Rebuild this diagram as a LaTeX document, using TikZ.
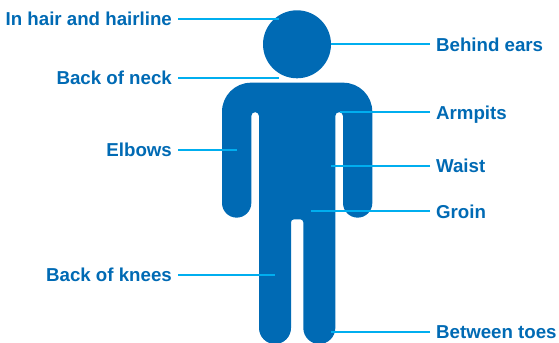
\documentclass[tikz,border=0pt]{standalone}
\usepackage{fontspec}
\setmainfont{Liberation Sans}
\definecolor{bodyblue}{RGB}{0,106,180}
\definecolor{leadcyan}{RGB}{0,174,239}
\tikzset{
  figure/.style={fill=bodyblue,draw=none},
  leader/.style={leadcyan,line width=0.1cm},
  lab/.style={text=bodyblue,font=\fontsize{26.6}{30}\selectfont\bfseries,inner ysep=0pt,
              text height=0.7cm,text depth=0pt},
  labl/.style={lab,anchor=east,inner xsep=0.3cm},
  labr/.style={lab,anchor=west,inner xsep=0.3cm},
}
\begin{document}
\begin{tikzpicture}[x=0.05cm,y=0.05cm]
  \path[use as bounding box] (0,0) rectangle (559,343);
  \begin{scope}
    \clip (0,0) rectangle (559,343);
    % head and body
    \fill[figure] (297,298.7) circle (34);
    \fill[figure] (222,140) -- (222,231.3)
      arc (180:90:29) -- (343.3,260.3) arc (90:0:29) -- (372.3,140)
      arc (0:-180:14.65) -- (343,227) arc (0:180:3.85) -- (335.3,15)
      arc (0:-180:16) -- (303.3,120.7) arc (0:90:3) -- (294,123.7)
      arc (90:180:3) -- (291,15)
      arc (0:-180:16) -- (259,227) arc (0:180:3.85) -- (251.3,140)
      arc (0:-180:14.65) -- cycle;
  \end{scope}

  % labels on the left
  \foreach \n/\yy/\xe/\txt in {
    hair/324/279/In hair and hairline,
    neck/265/279/Back of neck,
    elbow/193/237/Elbows,
    knee/68/275/Back of knees
  }{
    \node[labl] (\n) at (178,\yy) {\txt};
    \coordinate (\n end) at (\xe,\yy);
    \draw[leader] (\n.east) -- (\n end);
  }
  % labels on the right
  \foreach \n/\yy/\xe/\txt in {
    ears/298.7/331/Behind ears,
    armpit/230.5/340/Armpits,
    waist/177/331/Waist,
    groin/131.5/311/Groin,
    toes/11/331/Between toes
  }{
    \node[labr] (\n) at (430,\yy) {\txt};
    \coordinate (\n end) at (\xe,\yy);
    \draw[leader] (\n.west) -- (\n end);
  }
\end{tikzpicture}
\end{document}
